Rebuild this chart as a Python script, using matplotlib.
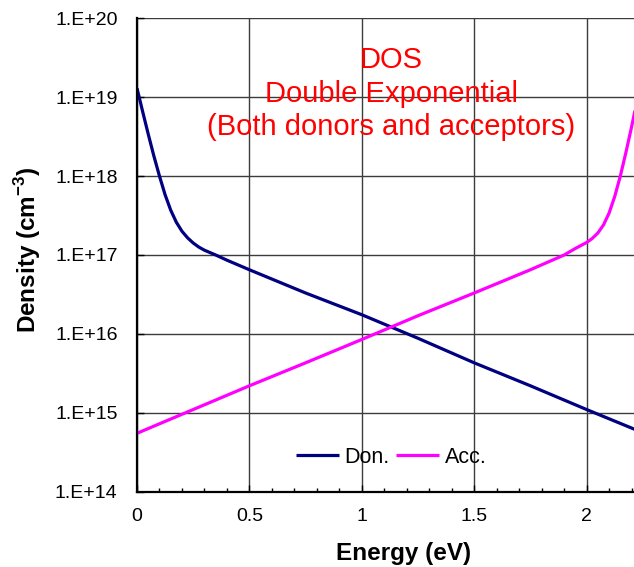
import numpy as np
import matplotlib
matplotlib.use("Agg")
import matplotlib.pyplot as plt
from matplotlib.ticker import FixedLocator, FuncFormatter, MultipleLocator, NullLocator

plt.rcParams['font.family'] = ['Liberation Sans', 'DejaVu Sans']
plt.rcParams['mathtext.fontset'] = 'custom'
plt.rcParams['mathtext.rm'] = 'Liberation Sans'
plt.rcParams['mathtext.bf'] = 'Liberation Sans:bold'

# Donor-like density of states (cm^-3) vs energy (eV)
don_energy = [0.0, 0.025, 0.05, 0.075, 0.1, 0.125, 0.15, 0.175, 0.2, 0.225,
              0.25, 0.275, 0.3, 0.35, 0.4, 0.5, 0.75, 1.0, 1.25, 1.5, 1.75,
              2.0, 2.25]
don_density = [1.3e19, 6.6e18, 3.4e18, 1.8e18, 1.0e18, 5.8e17, 3.7e17, 2.6e17,
               2.0e17, 1.65e17, 1.42e17, 1.26e17, 1.15e17, 1.0e17, 8.6e16,
               6.5e16, 3.3e16, 1.75e16, 8.8e15, 4.3e15, 2.2e15, 1.1e15, 5.6e14]

# Acceptor-like density of states (cm^-3) vs energy (eV)
acc_energy = [0.0, 0.25, 0.5, 0.75, 1.0, 1.25, 1.5, 1.75, 1.9, 1.95, 1.975,
              2.0, 2.025, 2.05, 2.075, 2.1, 2.125, 2.15, 2.175, 2.2, 2.225,
              2.25]
acc_density = [5.5e14, 1.1e15, 2.2e15, 4.3e15, 8.5e15, 1.7e16, 3.3e16, 6.5e16,
               1.0e17, 1.21e17, 1.32e17, 1.44e17, 1.62e17, 1.9e17, 2.4e17,
               3.4e17, 5.5e17, 1.0e18, 2.0e18, 4.2e18, 9.2e18, 2.0e19]

x_ticks = [0, 0.5, 1, 1.5, 2]
y_ticks = [1e14, 1e15, 1e16, 1e17, 1e18, 1e19, 1e20]
title_lines = ["DOS", "Double Exponential", "(Both donors and acceptors)"]

W, H = 634, 567
fig = plt.figure(figsize=(W / 100, H / 100), dpi=100)

x0_px, x_per_ev = 137, 224.8
xmax = 2.4
left = x0_px / W
width = xmax * x_per_ev / W
bottom = 1 - 491.7 / H
top = 1 - 18.3 / H
ax = fig.add_axes([left, bottom, width, top - bottom])

ax.plot(don_energy, don_density, color='#000080', lw=2.3, label='Don.',
        solid_capstyle='butt')
ax.plot(acc_energy, acc_density, color='#FF00FF', lw=2.3, label='Acc.',
        solid_capstyle='butt')

ax.set_yscale('log')
ax.set_xlim(0, xmax)
ax.set_ylim(1e14, 1e20)

ax.xaxis.set_major_locator(FixedLocator(x_ticks))
ax.xaxis.set_minor_locator(MultipleLocator(0.1))
ax.xaxis.set_major_formatter(FuncFormatter(lambda v, p: f"{v:g}"))
ax.yaxis.set_major_locator(FixedLocator(y_ticks))
ax.yaxis.set_minor_locator(NullLocator())
ax.yaxis.set_major_formatter(
    FuncFormatter(lambda v, p: f"1.E+{int(round(np.log10(v))):02d}"))

ax.grid(True, which='major', color='#3c3c3c', lw=1.0)
ax.set_axisbelow(True)
for side in ('top', 'right'):
    ax.spines[side].set_visible(False)
for side in ('left', 'bottom'):
    ax.spines[side].set_linewidth(1.6)
    ax.spines[side].set_color('black')

ax.tick_params(axis='x', which='major', direction='in', length=5, width=1,
               labelsize=14, pad=12)
ax.tick_params(axis='x', which='minor', direction='in', length=3, width=1)
ax.tick_params(axis='y', which='major', direction='in', length=5, width=1,
               labelsize=14, pad=14)

# Annotation in red, centred over the middle of the plot
cx = 391 / W
for text, base_px in zip(title_lines, [68, 101.5, 135]):
    fig.text(cx, 1 - base_px / H, text, color='#FF0000', fontsize=21,
             ha='center', va='baseline')

fig.text(403.5 / W, 1 - 560 / H, 'Energy (eV)', fontsize=17.5,
         fontweight='bold', ha='center', va='baseline')
fig.text(28 / W, 1 - 250 / H, r'Density (cm$^{\mathbf{-3}}$)', fontsize=17.5,
         fontweight='bold', ha='center', va='center', rotation=90)

leg = ax.legend(loc='center left', bbox_to_anchor=(296 / W, 1 - 457.3 / H),
                bbox_transform=fig.transFigure, ncol=2, frameon=False,
                fontsize=15.5, handlelength=2.0, handletextpad=0.25,
                columnspacing=0.3, borderpad=0, borderaxespad=0)

fig.savefig('out.png', dpi=100)
